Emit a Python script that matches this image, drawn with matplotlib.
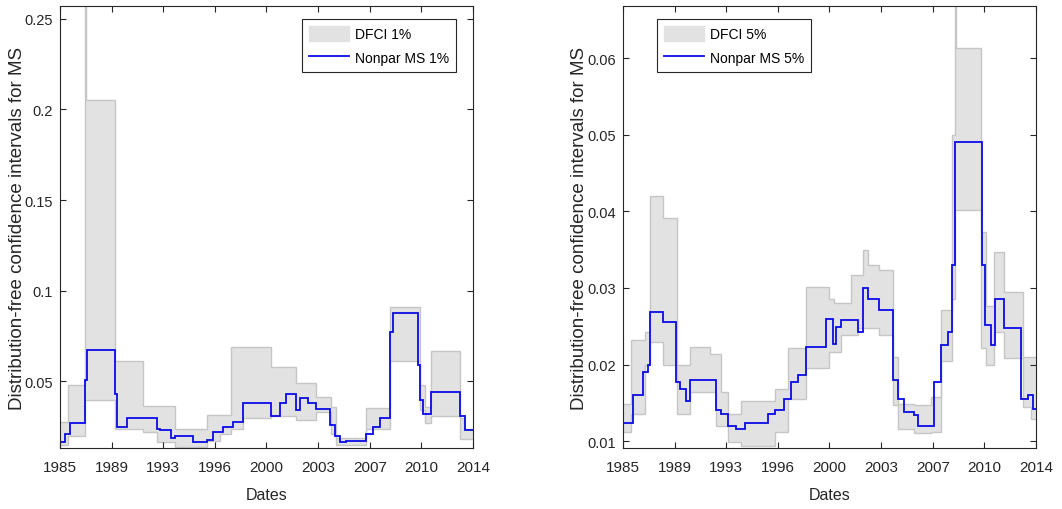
import numpy as np
import matplotlib
matplotlib.use("Agg")
import matplotlib.pyplot as plt
from matplotlib.patches import Patch
from matplotlib.lines import Line2D

plt.rcParams['font.family'] = ['Liberation Sans', 'DejaVu Sans']

# ---------------- data ----------------
tick_labels = ["1985", "1989", "1993", "1996", "2000", "2003", "2007", "2010", "2014"]

# Panel 1: DFCI 1% band (step edges in fractional years)
band1_edges = [1985.00, 1985.58, 1986.75, 1986.82, 1988.86, 1990.85, 1991.78, 1993.07, 1995.29,
               1996.20, 1997.04, 1997.86, 1999.85, 2001.56, 2003.01, 2004.00, 2004.40,
               2006.52, 2008.15, 2010.30, 2010.60, 2011.08, 2013.06, 2013.40, 2014.00]
band1_lower = [0.0150, 0.0200, 0.0400, 0.0400, 0.0240, 0.0220, 0.0165, 0.0138, 0.0170,
               0.0210, 0.0240, 0.0300, 0.0310, 0.0290, 0.0330, 0.0210, 0.0150,
               0.0240, 0.0610, 0.0340, 0.0270, 0.0310, 0.0180, 0.0180]
band1_upper = [0.0275, 0.0480, 0.2570, 0.2050, 0.0615, 0.0365, 0.0365, 0.0240, 0.0313,
               0.0313, 0.0690, 0.0690, 0.0580, 0.0490, 0.0415, 0.0360, 0.0190,
               0.0355, 0.0910, 0.0480, 0.0360, 0.0670, 0.0300, 0.0240]

# Panel 1: Nonpar MS 1%
ms1_edges = [1985.00, 1985.35, 1985.70, 1986.75, 1986.92, 1988.86, 1989.02, 1989.68,
             1991.78, 1992.02, 1992.76, 1993.07, 1994.35, 1995.29, 1995.76, 1996.46,
             1997.16, 1997.86, 1999.85, 2000.44, 2000.90, 2001.56, 2001.84, 2002.42,
             2003.01, 2003.94, 2004.29, 2004.64, 2005.11, 2006.52, 2006.98, 2007.45,
             2008.15, 2008.39, 2010.14, 2010.30, 2010.50, 2011.08, 2013.06, 2013.41, 2014.00]
ms1_values = [0.0166, 0.0210, 0.0272, 0.0510, 0.0675, 0.0430, 0.0250, 0.0300,
              0.0240, 0.0230, 0.0190, 0.0200, 0.0166, 0.0175, 0.0220, 0.0250,
              0.0276, 0.0380, 0.0310, 0.0380, 0.0430, 0.0340, 0.0410, 0.0380,
              0.0350, 0.0258, 0.0200, 0.0166, 0.0170, 0.0210, 0.0250, 0.0300,
              0.0770, 0.0880, 0.0590, 0.0400, 0.0320, 0.0440, 0.0310, 0.0230]

# Panel 2: DFCI 5% band
band2_edges = [1985.00, 1985.58, 1986.52, 1986.87, 1987.81, 1988.81, 1989.68, 1991.08,
               1991.55, 1991.90, 1992.37, 1993.30, 1995.64, 1996.58, 1997.86, 1999.50,
               1999.85, 2000.32, 2001.02, 2001.49, 2001.84, 2002.19, 2003.01, 2003.94,
               2004.29, 2005.46, 2006.63, 2007.33, 2008.08, 2008.32, 2008.38, 2010.14,
               2010.49, 2011.08, 2011.78, 2013.06, 2013.65, 2014.00]
band2_lower = [0.0112, 0.0136, 0.0200, 0.0230, 0.0199, 0.0136, 0.0164, 0.0164,
               0.0120, 0.0120, 0.0099, 0.0094, 0.0112, 0.0155, 0.0195, 0.0216,
               0.0216, 0.0238, 0.0238, 0.0247, 0.0247, 0.0247, 0.0238, 0.0147,
               0.0116, 0.0110, 0.0112, 0.0205, 0.0286, 0.0402, 0.0402, 0.0221,
               0.0199, 0.0243, 0.0208, 0.0145, 0.0129]
band2_upper = [0.0149, 0.0232, 0.0243, 0.0420, 0.0391, 0.0199, 0.0223, 0.0214,
               0.0214, 0.0164, 0.0136, 0.0153, 0.0168, 0.0221, 0.0301, 0.0285,
               0.0280, 0.0280, 0.0317, 0.0317, 0.0350, 0.0330, 0.0323, 0.0210,
               0.0149, 0.0147, 0.0158, 0.0271, 0.0500, 0.0668, 0.0613, 0.0373,
               0.0277, 0.0347, 0.0295, 0.0210, 0.0210]

# Panel 2: Nonpar MS 5%
ms2_edges = [1985.00, 1985.70, 1986.40, 1986.75, 1986.87, 1987.81, 1988.74, 1988.98,
             1989.45, 1989.68, 1991.55, 1991.90, 1992.37, 1992.95, 1993.54, 1995.17,
             1995.64, 1996.34, 1996.81, 1997.28, 1997.86, 1999.27, 1999.74, 1999.97,
             2000.32, 2001.49, 2001.84, 2002.19, 2003.01, 2003.94, 2004.29, 2004.76,
             2005.46, 2005.70, 2006.87, 2007.33, 2007.80, 2008.08, 2008.32, 2010.19,
             2010.42, 2010.84, 2011.12, 2011.78, 2012.95, 2013.41, 2013.77, 2014.00]
ms2_values = [0.0123, 0.0160, 0.0190, 0.0199, 0.0269, 0.0256, 0.0177, 0.0168,
              0.0153, 0.0180, 0.0140, 0.0136, 0.0120, 0.0116, 0.0123, 0.0136,
              0.0140, 0.0155, 0.0177, 0.0186, 0.0223, 0.0260, 0.0227, 0.0249,
              0.0258, 0.0243, 0.0300, 0.0286, 0.0271, 0.0180, 0.0155, 0.0138,
              0.0134, 0.0120, 0.0177, 0.0225, 0.0243, 0.0330, 0.0490, 0.0330,
              0.0251, 0.0225, 0.0286, 0.0247, 0.0155, 0.0160, 0.0142]

W, H = 1062, 510
panels = [
    dict(edges=band1_edges, lo=band1_lower, hi=band1_upper, ms_e=ms1_edges, ms=ms1_values,
         ylim=(0.0133, 0.257), yticks=[0.05, 0.1, 0.15, 0.2, 0.25],
         ytl=["0.05", "0.1", "0.15", "0.2", "0.25"],
         leg=("DFCI 1%", "Nonpar MS 1%"), rect=[60 / W, 1 - 449 / H, 413 / W, 442 / H],
         legxy=(302 / W, 1 - 20 / H), ylab_x=(26 - 60) / 413),
    dict(edges=band2_edges, lo=band2_lower, hi=band2_upper, ms_e=ms2_edges, ms=ms2_values,
         ylim=(0.0091, 0.0668), yticks=[0.01, 0.02, 0.03, 0.04, 0.05, 0.06],
         ytl=["0.01", "0.02", "0.03", "0.04", "0.05", "0.06"],
         leg=("DFCI 5%", "Nonpar MS 5%"), rect=[623 / W, 1 - 449 / H, 413 / W, 442 / H],
         legxy=(657 / W, 1 - 20 / H), ylab_x=(588 - 623) / 413),
]

fig = plt.figure(figsize=(W / 100, H / 100), dpi=100)
band_face = '#e2e2e2'
band_edge = '#c6c6c6'
blue = '#0a0ae6'
dark = '#262626'
xticks = np.linspace(1985, 2014, len(tick_labels))

for p in panels:
    ax = fig.add_axes(p['rect'])
    ax.stairs(p['hi'], p['edges'], baseline=p['lo'], fill=True, color=band_face, lw=0)
    ax.stairs(p['hi'], p['edges'], baseline=None, color=band_edge, lw=1.0)
    ax.stairs(p['lo'], p['edges'], baseline=None, color=band_edge, lw=1.0)
    ax.stairs(p['ms'], p['ms_e'], baseline=None, color=blue, lw=1.3)
    ax.set_xlim(1985, 2014)
    ax.set_ylim(*p['ylim'])
    ax.set_xticks(xticks)
    ax.set_xticklabels(tick_labels)
    ax.set_yticks(p['yticks'])
    ax.set_yticklabels(p['ytl'])
    ax.tick_params(direction='in', top=True, right=True, length=4, width=0.8,
                   colors=dark)
    ax.tick_params(axis='x', pad=9, labelsize=11)
    ax.tick_params(axis='y', pad=5, labelsize=10.5)
    for s in ax.spines.values():
        s.set_color(dark)
        s.set_linewidth(0.8)
    ax.set_xlabel("Dates", fontsize=11.5, color=dark, labelpad=9)
    ax.set_ylabel("Distribution-free confidence intervals for MS", fontsize=13.5,
                  color=dark)
    ax.yaxis.set_label_coords(p['ylab_x'], 0.5)
    handles = [Patch(facecolor=band_face, edgecolor=band_face),
               Line2D([0], [0], color=blue, lw=1.3)]
    leg = fig.legend(handles, list(p['leg']), loc='upper left', bbox_to_anchor=p['legxy'],
                     bbox_transform=fig.transFigure,
                     fontsize=10, frameon=True, fancybox=False, framealpha=1,
                     edgecolor=dark, handlelength=2.9, handleheight=1.3,
                     borderpad=0.5, labelspacing=0.6,
                     handletextpad=0.4, borderaxespad=0)
    leg.get_frame().set_linewidth(0.8)

fig.savefig("out.png", dpi=100)
